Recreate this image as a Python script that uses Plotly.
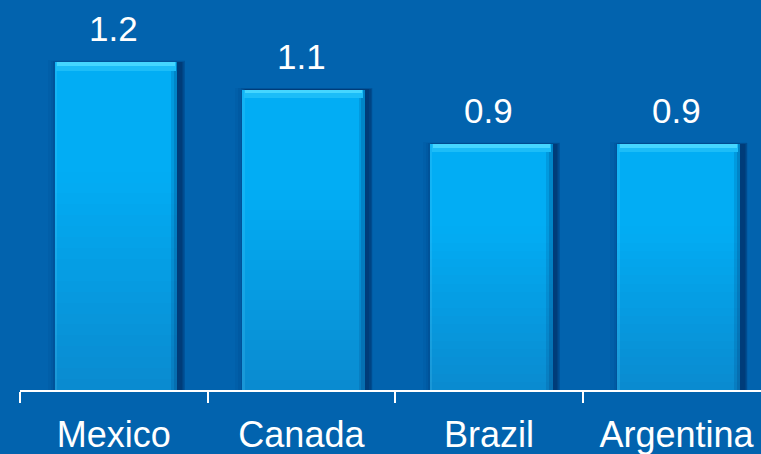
import plotly.graph_objects as go

# Data
countries = ["Mexico", "Canada", "Brazil", "Argentina"]
values = [1.2, 1.1, 0.9, 0.9]
value_labels = ["1.2", "1.1", "0.9", "0.9"]

BG = "#0263ae"
BAR_W = 0.655
SHIFT = 0.012  # bars sit slightly right of the category centre
FONT = "Liberation Sans, Arial, sans-serif"


def mix(c1, c2, t):
    a = [int(c1[i:i + 2], 16) for i in (1, 3, 5)]
    b = [int(c2[i:i + 2], 16) for i in (1, 3, 5)]
    return "rgb(%d,%d,%d)" % tuple(round(a[j] + (b[j] - a[j]) * t) for j in range(3))


fig = go.Figure()
left = -BAR_W / 2 + SHIFT

# soft drop shadow around each bar, strongest on the right
for dx, grow, alpha in [(0.0, 0.075, 0.05), (0.01, 0.06, 0.07), (0.015, 0.045, 0.1),
                        (0.02, 0.032, 0.13), (0.02, 0.02, 0.17), (0.018, 0.01, 0.2)]:
    fig.add_trace(go.Bar(
        x=countries, y=[v + 0.035 + grow * 0.3 for v in values], base=-0.035 - grow * 0.2,
        width=BAR_W + grow, offset=left - grow / 2 + dx,
        marker=dict(color=f"rgba(0,30,80,{alpha})", line_width=0),
        hoverinfo="skip", showlegend=False))

# bar body with a vertical gradient, built from stacked bands
N = 30
bottom_c, top_c = "#0a8bd0", "#02adf4"
for i in range(N):
    t = i / (N - 1)
    fig.add_trace(go.Bar(
        x=countries, y=[v / N for v in values], base=[v * i / N for v in values],
        width=BAR_W, offset=left,
        marker=dict(color=mix(bottom_c, top_c, min(1, t * 1.5)), line_width=0),
        hoverinfo="skip", showlegend=False))

# darker right edge and lighter left edge
for w, alpha in [(0.035, 0.15), (0.02, 0.2)]:
    fig.add_trace(go.Bar(
        x=countries, y=values, base=0, width=w, offset=left + BAR_W - w,
        marker=dict(color=f"rgba(0,50,110,{alpha})", line_width=0),
        hoverinfo="skip", showlegend=False))
fig.add_trace(go.Bar(
    x=countries, y=values, base=0, width=0.014, offset=left,
    marker=dict(color="rgba(120,220,255,0.15)", line_width=0),
    hoverinfo="skip", showlegend=False))

# highlighted top bevel
BEV = 0.03
fig.add_trace(go.Bar(
    x=countries, y=[BEV] * len(values), base=[v - BEV for v in values],
    width=BAR_W - 0.02, offset=left + 0.01,
    marker=dict(color="#1cbdf8", line_width=0),
    hoverinfo="skip", showlegend=False))
fig.add_trace(go.Bar(
    x=countries, y=[BEV * 0.45] * len(values), base=[v - BEV * 0.45 for v in values],
    width=BAR_W - 0.03, offset=left + 0.015,
    marker=dict(color="#45d6ff", line_width=0),
    hoverinfo="skip", showlegend=False))

# value labels above the bars
for c, v, lab in zip(countries, values, value_labels):
    fig.add_annotation(x=c, y=v, text=lab, showarrow=False, yanchor="bottom",
                       yshift=12, font=dict(family=FONT, size=35, color="white"))

fig.update_layout(
    width=761, height=454,
    margin=dict(l=20, r=0, t=0, b=64),
    paper_bgcolor=BG, plot_bgcolor=BG,
    barmode="overlay", bargap=0,
    showlegend=False,
    xaxis=dict(
        range=[-0.5, 3.45], showgrid=False, zeroline=False,
        showline=True, linecolor="white", linewidth=2,
        ticks="outside", tickson="boundaries", ticklen=11, tickwidth=1.5,
        tickcolor="white", ticklabelstandoff=12,
        tickfont=dict(family=FONT, size=36, color="white"),
    ),
    yaxis=dict(range=[0, 390 / 273], visible=False, fixedrange=True),
)

fig.write_html("out.html")
